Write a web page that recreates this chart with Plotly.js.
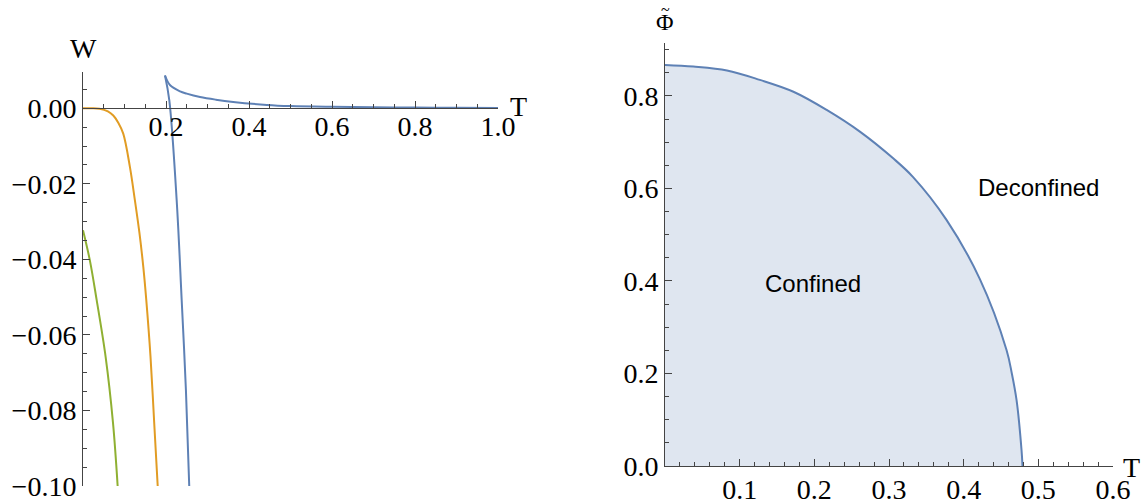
<!DOCTYPE html>
<html>
<head>
<meta charset="utf-8">
<script src="https://cdn.plot.ly/plotly-3.0.1.min.js"></script>
<style>html,body{margin:0;padding:0;background:#fff;}#chart{width:1148px;height:499px;}</style>
</head>
<body>
<div id="chart"></div>
<script>
// ---- Left panel: W(T) ----
// blue: lower (steep) branch up to the cusp, then the upper decaying branch
const blueLowT = [0.256, 0.248, 0.2378, 0.2257, 0.208, 0.1976];
const blueLowW = [-0.1, -0.0746, -0.0508, -0.0243, 0.0021, 0.0087];
const blueUpT = [0.1976, 0.21, 0.234, 0.25, 0.282, 0.32, 0.362, 0.443, 0.5, 0.6, 0.7, 0.8, 0.9, 1.0];
const blueUpW = [0.0087, 0.0061, 0.0045, 0.0039, 0.003, 0.0023, 0.0017, 0.0009, 0.0006, 0.0004, 0.0003, 0.0002, 0.00015, 0.0001];

const orangeT = [0, 0.02, 0.04, 0.06, 0.073, 0.085, 0.097, 0.113, 0.125, 0.136, 0.1453, 0.1525, 0.1627, 0.1716, 0.18];
const orangeW = [0, 0, -0.0001, -0.0008, -0.0019, -0.0038, -0.0067, -0.0155, -0.0243, -0.033, -0.042, -0.0508, -0.0658, -0.0833, -0.1];

const greenT = [0, 0.0164, 0.033, 0.0545, 0.0723, 0.0835];
const greenW = [-0.0323, -0.0402, -0.0508, -0.0658, -0.0833, -0.1];

const leftXTicks = [0.2, 0.4, 0.6, 0.8, 1.0];
const leftXTickText = ["0.2", "0.4", "0.6", "0.8", "1.0"];
const leftYTicks = [0, -0.02, -0.04, -0.06, -0.08, -0.1];
const leftYTickText = ["0.00", "\u22120.02", "\u22120.04", "\u22120.06", "\u22120.08", "\u22120.10"];

// ---- Right panel: phase boundary ----
const phaseT = [0, 0.038, 0.083, 0.127, 0.172, 0.2165, 0.261, 0.3056, 0.332, 0.377, 0.4217, 0.4574, 0.4645, 0.4708, 0.4775, 0.4788];
const phasePhi = [0.867, 0.8634, 0.855, 0.8346, 0.809, 0.7697, 0.7228, 0.665, 0.625, 0.532, 0.404, 0.2508, 0.2, 0.1427, 0.0346, 0];

const rightXTicks = [0.1, 0.2, 0.3, 0.4, 0.5, 0.6];
const rightXTickText = ["0.1", "0.2", "0.3", "0.4", "0.5", "0.6"];
const rightYTicks = [0, 0.2, 0.4, 0.6, 0.8];
const rightYTickText = ["0.0", "0.2", "0.4", "0.6", "0.8"];

const W = 1148, H = 499;
const px = v => v / W;
const py = v => 1 - v / H;

const BLUE = '#5E81B5', ORANGE = '#E19C24', GREEN = '#8FB032';
const AX = '#444444';
const tickFont = {family: 'Liberation Serif, Times New Roman, serif', size: 28, color: '#000'};
const sansFont = {family: 'Liberation Sans, Arial, sans-serif', size: 24, color: '#000'};

const leftYRange = [-0.1, 0.0097];
const leftYDomain = [py(486), py(71.7)];
const xAxisPos = leftYDomain[0] + (0 - leftYRange[0]) / (leftYRange[1] - leftYRange[0]) * (leftYDomain[1] - leftYDomain[0]);

const sp = {shape: 'spline', smoothing: 1};
const traces = [
  {x: blueLowT, y: blueLowW, type: 'scatter', mode: 'lines', line: Object.assign({color: BLUE, width: 2}, sp), xaxis: 'x', yaxis: 'y', hoverinfo: 'skip'},
  {x: blueUpT, y: blueUpW, type: 'scatter', mode: 'lines', line: Object.assign({color: BLUE, width: 2}, sp), xaxis: 'x', yaxis: 'y', hoverinfo: 'skip'},
  {x: orangeT, y: orangeW, type: 'scatter', mode: 'lines', line: Object.assign({color: ORANGE, width: 2}, sp), xaxis: 'x', yaxis: 'y', hoverinfo: 'skip'},
  {x: greenT, y: greenW, type: 'scatter', mode: 'lines', line: Object.assign({color: GREEN, width: 2}, sp), xaxis: 'x', yaxis: 'y', hoverinfo: 'skip'},
  {x: phaseT, y: phasePhi, type: 'scatter', mode: 'lines', fill: 'tozeroy', fillcolor: 'rgba(94,129,181,0.2)', line: Object.assign({color: BLUE, width: 2}, sp), xaxis: 'x2', yaxis: 'y2', hoverinfo: 'skip'}
];

const minorCommon = {ticks: 'inside', ticklen: 4, tickcolor: AX, showgrid: false};

const layout = {
  width: W, height: H,
  margin: {l: 0, r: 0, t: 0, b: 0},
  paper_bgcolor: '#fff', plot_bgcolor: 'rgba(0,0,0,0)',
  showlegend: false,
  xaxis: {
    domain: [px(83), px(498)], range: [0, 1.0], anchor: 'free', position: xAxisPos,
    showgrid: false, zeroline: false, showline: true, linecolor: AX, linewidth: 1,
    tickmode: 'array', tickvals: leftXTicks, ticktext: leftXTickText, ticklabeloverflow: 'allow',
    ticks: 'inside', ticklen: 7, tickcolor: AX, tickwidth: 1, tickfont: tickFont, ticklabelstandoff: -7,
    minor: Object.assign({tickmode: 'linear', tick0: 0, dtick: 0.05}, minorCommon)
  },
  yaxis: {
    domain: leftYDomain, range: leftYRange, anchor: 'x',
    showgrid: false, zeroline: false, showline: true, linecolor: AX, linewidth: 1,
    tickmode: 'array', tickvals: leftYTicks, ticktext: leftYTickText, ticklabeloverflow: 'allow',
    ticks: 'inside', ticklen: 7, tickcolor: AX, tickwidth: 1, tickfont: tickFont,
    minor: Object.assign({tickmode: 'linear', tick0: 0, dtick: 0.005}, minorCommon)
  },
  xaxis2: {
    domain: [px(665), px(1113)], range: [0, 0.6], anchor: 'y2',
    showgrid: false, zeroline: false, showline: true, linecolor: AX, linewidth: 1,
    tickmode: 'array', tickvals: rightXTicks, ticktext: rightXTickText, ticklabeloverflow: 'allow',
    ticks: 'inside', ticklen: 7, tickcolor: AX, tickwidth: 1, tickfont: tickFont, ticklabelstandoff: -2,
    minor: Object.assign({tickmode: 'linear', tick0: 0, dtick: 0.02}, minorCommon)
  },
  yaxis2: {
    domain: [py(466), py(42.7)], range: [0, 0.915], anchor: 'x2',
    showgrid: false, zeroline: false, showline: true, linecolor: AX, linewidth: 1,
    tickmode: 'array', tickvals: rightYTicks, ticktext: rightYTickText, ticklabeloverflow: 'allow',
    ticks: 'inside', ticklen: 7, tickcolor: AX, tickwidth: 1, tickfont: tickFont,
    minor: Object.assign({tickmode: 'linear', tick0: 0, dtick: 0.05}, minorCommon)
  },
  annotations: [
    {text: 'W', xref: 'paper', yref: 'paper', x: px(83), y: py(49), xanchor: 'center', yanchor: 'middle', showarrow: false, font: tickFont},
    {text: 'T', xref: 'paper', yref: 'paper', x: px(518), y: py(106), xanchor: 'center', yanchor: 'middle', showarrow: false, font: tickFont},
    {text: 'Φ', xref: 'paper', yref: 'paper', x: px(665), y: py(22), xanchor: 'center', yanchor: 'middle', showarrow: false, font: {family: tickFont.family, size: 24, color: '#000'}},
    {text: '~', xref: 'paper', yref: 'paper', x: px(665), y: py(9), xanchor: 'center', yanchor: 'middle', showarrow: false, font: {family: tickFont.family, size: 16, color: '#000'}},
    {text: 'T', xref: 'paper', yref: 'paper', x: px(1131), y: py(467), xanchor: 'center', yanchor: 'middle', showarrow: false, font: tickFont},
    {text: 'Confined', xref: 'paper', yref: 'paper', x: px(813), y: py(283), xanchor: 'center', yanchor: 'middle', showarrow: false, font: sansFont},
    {text: 'Deconfined', xref: 'paper', yref: 'paper', x: px(1038), y: py(188), xanchor: 'center', yanchor: 'middle', showarrow: false, font: sansFont}
  ]
};

Plotly.newPlot('chart', traces, layout, {staticPlot: true, displayModeBar: false});
</script>
</body>
</html>
